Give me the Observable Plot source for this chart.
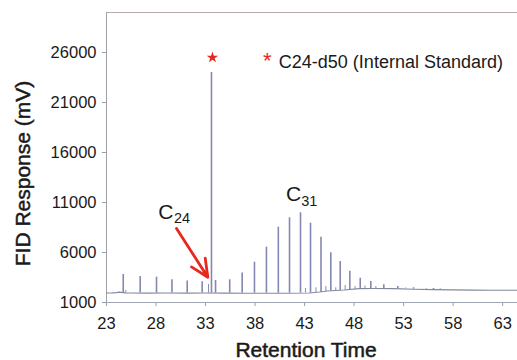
<!DOCTYPE html>
<html><head><meta charset="utf-8">
<script src="https://cdn.jsdelivr.net/npm/d3@7"></script>
<script src="https://cdn.jsdelivr.net/npm/@observablehq/plot@0.6"></script>
<style>
html,body{margin:0;padding:0;background:#fff;}
#chart svg{display:block;}
</style>
</head><body><div id="chart"></div>
<script>
// Major peaks: retention time (min), apex response (mV), local baseline (mV)
const peakTimes   = [24.69, 26.40, 28.05, 29.61, 31.15, 32.66, 33.60, 34.01, 35.44, 36.70, 37.94, 39.15, 40.35, 41.48, 42.59, 43.60, 44.66, 45.65, 46.60, 47.57, 48.62, 49.69, 51.00, 52.41, 54.00, 56.02, 56.72];
const peakHeights = [3800, 3600, 3530, 3270, 3150, 3080, 24000, 3200, 3270, 3950, 5030, 6530, 8530, 9470, 9970, 8930, 7530, 5970, 5100, 4130, 3430, 3100, 2770, 2600, 2470, 2400, 2350];
const peakBases   = [1950, 1950, 1940, 1940, 1940, 1940, 1940, 1940, 1940, 1930, 1930, 1930, 1930, 1930, 1940, 1950, 2000, 2150, 2200, 2270, 2380, 2400, 2400, 2380, 2330, 2300, 2290];

// Minor peaks between the n-alkanes
const minorTimes   = [24.95, 33.30, 43.10, 44.15, 45.15, 46.15, 47.10, 48.10, 49.10, 50.20, 53.20, 55.30];
const minorHeights = [2200, 2800, 2400, 2470, 2600, 2470, 2700, 2600, 2650, 2600, 2450, 2380];
const minorBases   = [1950, 1940, 1950, 1980, 2080, 2180, 2240, 2330, 2400, 2400, 2360, 2310];

// Baseline trace
const baseTimes  = [23.0, 23.6, 24.0, 24.3, 24.9, 25.5, 27.0, 29.0, 31.0, 33.0, 35.0, 37.0, 39.0, 41.0, 43.5, 44.5, 45.3, 46.2, 47.0, 48.5, 50.0, 52.0, 54.0, 56.0, 58.0, 60.0, 62.0, 64.5];
const baseValues = [1950, 1960, 1990, 2040, 1960, 1950, 1940, 1950, 1940, 1950, 1940, 1930, 1930, 1930, 1950, 2050, 2150, 2200, 2250, 2390, 2400, 2390, 2330, 2290, 2260, 2240, 2220, 2220];

const xTicks = [23, 28, 33, 38, 43, 48, 53, 58, 63];
const yTicks = [1000, 6000, 11000, 16000, 21000, 26000];

const xTitle = "Retention Time";
const yTitle = "FID Response (mV)";
const legendLabel = "C24-d50 (Internal Standard)";

// Annotation anchors in data units
const arrowFrom = {t: 30.07, v: 8400};
const arrowTo   = {t: 33.23, v: 3530};
const starPos   = {t: 33.70, v: 25500};
const legendStar = {t: 39.23, v: 25450};
const legendText = {t: 40.40, v: 25000};
const labelC24 = {c: {t: 29.00, v: 10050}, sub: {t: 30.62, v: 9400}, text: "24"};
const labelC31 = {c: {t: 41.88, v: 11870}, sub: {t: 43.47, v: 11100}, text: "31"};
const xTitlePos = {t: 43.15, v: -3800};
const yTitlePos = {t: 14.55, v: 13900};

const peaks = peakTimes.map((t, i) => ({t, h: peakHeights[i], b: peakBases[i]}));
const minors = minorTimes.map((t, i) => ({t, h: minorHeights[i], b: minorBases[i]}));
const baseline = baseTimes.map((t, i) => ({t, v: baseValues[i]}));

const red = "#e8271f";
const ink = "#1a1a1a";
const font = "'Liberation Sans', Arial, Helvetica, sans-serif";

const chart = Plot.plot({
  width: 517,
  height: 360,
  marginLeft: 106,
  marginRight: 0,
  marginTop: 12,
  marginBottom: 58,
  style: {fontFamily: font, background: "white", color: ink, overflow: "visible"},
  x: {domain: [23, 64.5], label: null},
  y: {domain: [1000, 30000], label: null},
  marks: [
    Plot.ruleY([30000], {stroke: "#b3abab", strokeWidth: 1}),
    Plot.axisX({ticks: xTicks, tickSize: 4, tickPadding: 11, fontSize: 16.5, stroke: "#9a9aa4", tickFormat: d => String(d), label: null}),
    Plot.axisY({ticks: yTicks, tickSize: 4, tickPadding: 6, fontSize: 16.5, stroke: "#9a9aa4", tickFormat: d => String(d), label: null}),
    Plot.ruleX([23], {stroke: "#a0a0a8"}),
    Plot.ruleY([1000], {stroke: "#a0a6b4"}),
    Plot.line(baseline, {x: "t", y: "v", stroke: "#85879c", strokeWidth: 1.1}),
    Plot.ruleX(minors, {x: "t", y1: "b", y2: "h", stroke: "#8a8ca8", strokeWidth: 1}),
    Plot.ruleX(peaks, {x: "t", y1: "b", y2: "h", stroke: "#8487b2", strokeWidth: 1.6}),
    Plot.arrow([0], {x1: () => arrowFrom.t, y1: () => arrowFrom.v, x2: () => arrowTo.t, y2: () => arrowTo.v, stroke: red, strokeWidth: 2.8, headLength: 15, headAngle: 50}),
    Plot.dot([starPos], {x: "t", y: "v", symbol: "star", r: 3.6, fill: red, stroke: "none"}),
    Plot.text([legendStar], {x: "t", y: "v", text: () => "*", fill: red, fontSize: 22, dy: 3}),
    Plot.text([legendText], {x: "t", y: "v", text: () => legendLabel, textAnchor: "start", fontSize: 18, fill: ink}),
    Plot.text([labelC24.c, labelC31.c], {x: "t", y: "v", text: () => "C", fontSize: 21, fill: ink}),
    Plot.text([labelC24.sub, labelC31.sub], {x: "t", y: "v", text: (d, i) => [labelC24.text, labelC31.text][i], fontSize: 14.5, fill: ink}),
    Plot.text([xTitlePos], {x: "t", y: "v", text: () => xTitle, fontSize: 21, fill: ink, stroke: ink, strokeWidth: 0.5}),
    Plot.text([yTitlePos], {x: "t", y: "v", text: () => yTitle, rotate: -90, fontSize: 21, fill: ink, stroke: ink, strokeWidth: 0.5})
  ]
});
document.getElementById("chart").appendChild(chart);
</script>
</body></html>
